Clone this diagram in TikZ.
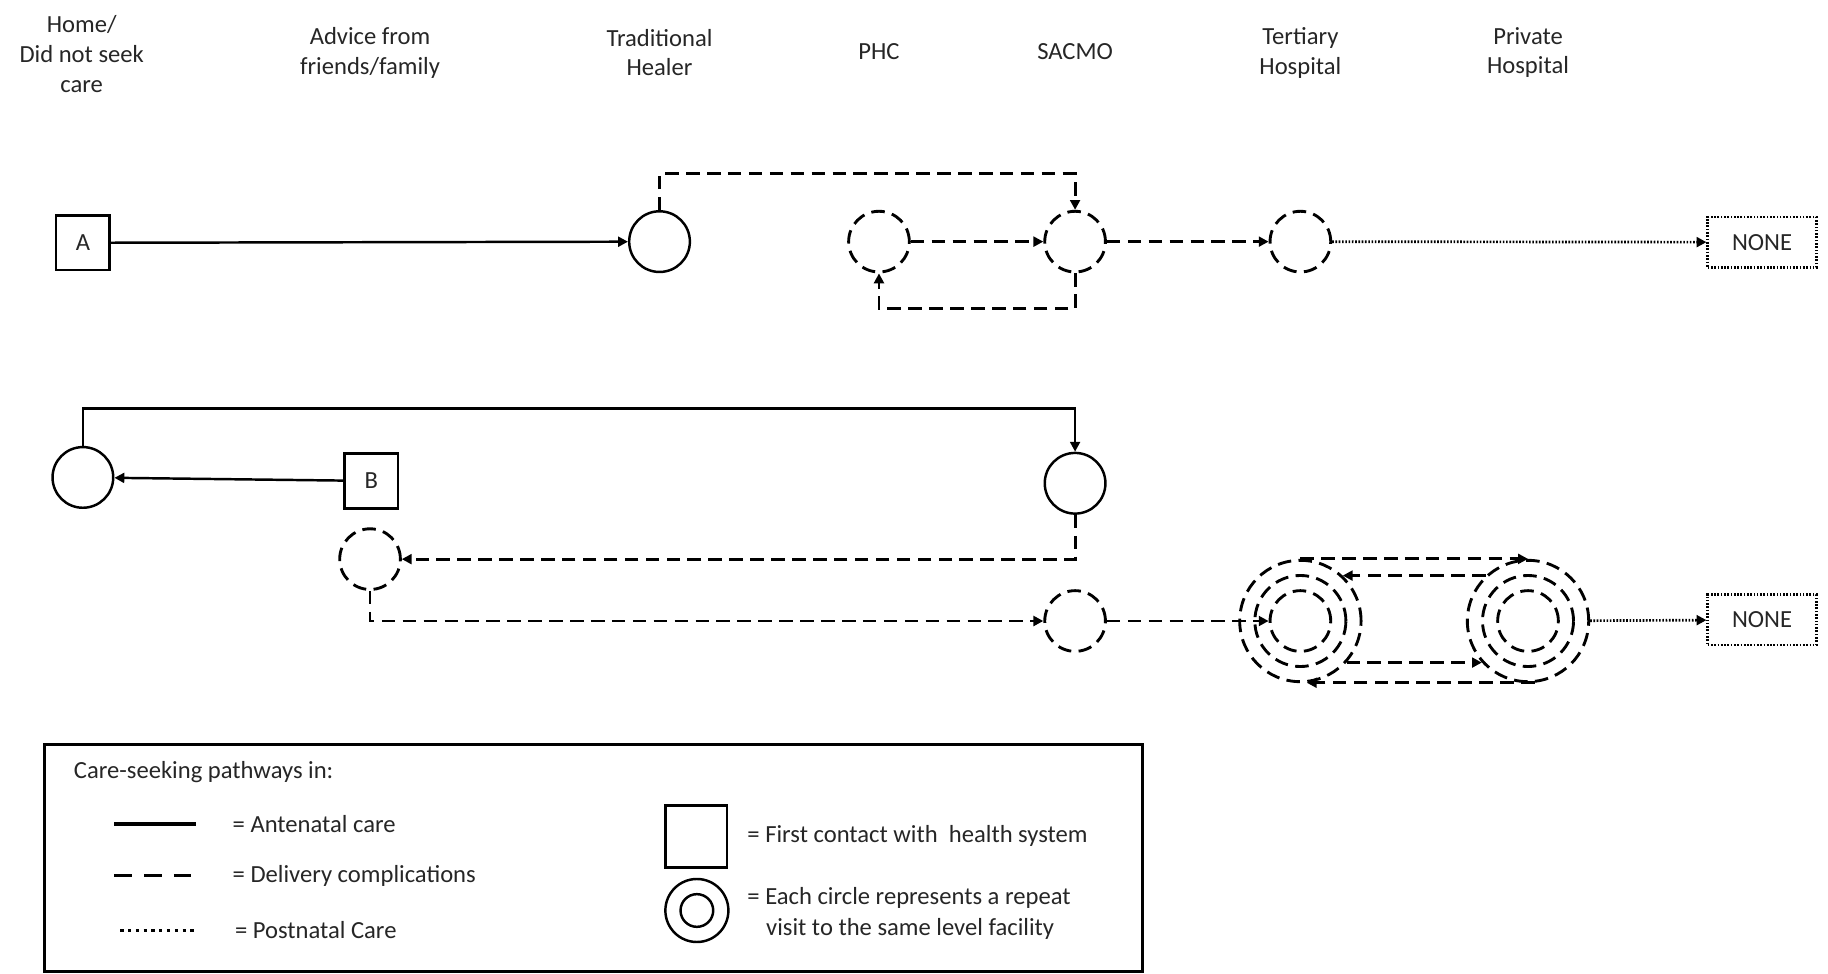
\documentclass[tikz,border=0pt]{standalone}
\usepackage{fontspec}
\setmainfont{Carlito}
\usetikzlibrary{arrows.meta}
\begin{document}
\begin{tikzpicture}[x=0.02cm,y=-0.02cm,
  font=\fontsize{12}{14.6}\selectfont,
  txt/.style={text=black!85, align=center, inner sep=0pt},
  ltxt/.style={text=black!85, align=left, anchor=west, inner sep=0pt},
  solidl/.style={line width=1.2pt, draw=black},
  dashl/.style={line width=1.4pt, dash pattern=on 6.6pt off 3.6pt},
  dotl/.style={line width=1.3pt, dash pattern=on 0.8pt off 0.8pt},
  tip/.style={-{Triangle[length=4.8pt,width=4.8pt]}},
  fbox/.style={draw, line width=1.2pt, minimum width=0.92cm, minimum height=0.94cm, inner sep=0pt, text=black!85},
  circ/.style={circle, draw, line width=1.2pt, minimum size=1.04cm, inner sep=0pt},
  dcirc/.style={circle, draw, dashl, minimum size=1.04cm, inner sep=0pt},
  nonebox/.style={draw, dotl, minimum width=1.86cm, minimum height=0.86cm, inner sep=0pt, text=black!85},
]
\useasboundingbox (0,0) rectangle (1566,834);
% headers
\node[txt] (h1) at (70,46) {Home/\\Did not seek\\care};
\node[txt] (h2) at (317,45) {Advice from\\friends/family};
\node[txt] (h3) at (565,45) {Traditional\\Healer};
\node[txt] (h4) at (753,44) {PHC};
\node[txt] (h5) at (921,44) {SACMO};
\node[txt] (h6) at (1114,45) {Tertiary\\Hospital};
\node[txt] (h7) at (1309,45) {Private\\Hospital};
% row A
\node[fbox] (A) at (71,208) {A};
\node[circ] (heal) at (565,207) {};
\node[dcirc] (phc) at (753,207) {};
\node[dcirc] (sacA) at (921,207) {};
\node[dcirc] (terA) at (1114,207) {};
\node[nonebox] (none1) at (1509.5,207.5) {NONE};
\draw[solidl,tip] (A) -- (heal);
\draw[dashl,tip] (heal.north) -- ++(0,-31) -| (sacA.north);
\draw[dashl,tip] (phc) -- (sacA);
\draw[dashl,tip] (sacA.south) -- ++(0,30) -| (phc.south);
\draw[dashl,tip] (sacA) -- (terA);
\draw[dotl,tip] (terA) -- (none1);
% row B
\node[circ] (home) at (71,409) {};
\node[fbox] (B) at (318,412) {B};
\node[circ] (sacS) at (921,414) {};
\node[dcirc] (adv) at (317,479) {};
\node[dcirc] (sacD) at (921,532) {};
\node[dcirc, minimum size=2.08cm] (ter) at (1114,532) {};
\node[dcirc, minimum size=1.56cm] (terM) at (ter) {};
\node[dcirc] (terI) at (ter) {};
\node[dcirc, minimum size=2.08cm] (pri) at (1309,532) {};
\node[dcirc, minimum size=1.56cm] (priM) at (pri) {};
\node[dcirc] (priI) at (pri) {};
\node[nonebox] (none2) at (1509.5,531) {NONE};
\draw[solidl,tip] (B) -- (home);
\draw[solidl,tip] (home.north) -- ++(0,-32) -| (sacS.north);
\draw[dashl,tip] (sacS.south) |- (adv.east);
\draw[dashl,tip] (adv.south) |- (sacD.west);
\draw[dashl,tip] (sacD) -- (terI.west);
\draw[dashl,tip] (ter.north) -- (pri.north);
\draw[dashl,tip] (pri.133) -- (ter.47);
\draw[dashl,tip] (ter.-42) -- (pri.222);
\draw[dashl,tip] (pri.-84) -- (ter.-84);
\draw[dotl,tip] (pri) -- (none2);
% legend
\node[draw, line width=1.3pt, minimum width=18.82cm, minimum height=3.88cm, inner sep=0pt] (leg) at (508.5,735) {};
\node[ltxt] (l0) at (63,661) {Care-seeking pathways in:};
\draw[line width=1.8pt] (98,706) -- (168,706);
\node[ltxt] (l1) at (199,706) {= Antenatal care};
\draw[line width=1.8pt, dash pattern=on 8.5pt off 6pt] (98,750) -- (168,750);
\node[ltxt] (l2) at (199,750) {= Delivery complications};
\draw[line width=1.7pt, dash pattern=on 1.6pt off 2.2pt] (103,797) -- (168,797);
\node[ltxt] (l3) at (201,797) {= Postnatal Care};
\node[draw, line width=1.2pt, minimum size=1.06cm, inner sep=0pt] (lsq) at (596.5,716.5) {};
\node[ltxt] (l4) at (640,716) {= First contact with~ health system};
\node[circ, minimum size=1.08cm] (lc) at (597,780) {};
\node[circ, minimum size=0.56cm] (lci) at (lc) {};
\node[ltxt] (l5) at (640,769) {= Each circle represents a repeat};
\node[ltxt] (l6) at (656,796) {visit to the same level facility};
\end{tikzpicture}
\end{document}
